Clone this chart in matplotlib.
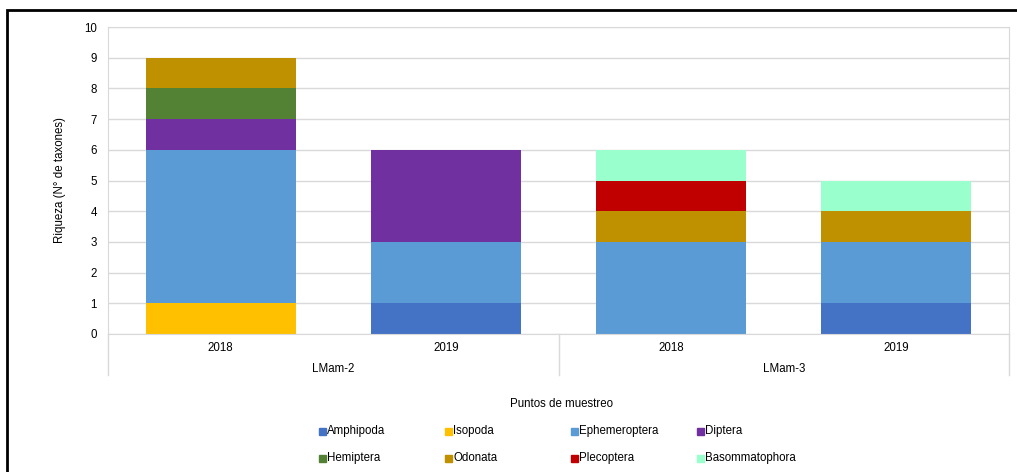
import numpy as np
import matplotlib.pyplot as plt
from matplotlib.patches import Rectangle

plt.rcParams['font.family'] = ['Liberation Sans', 'DejaVu Sans']

# Sampling points and years
sites = ['LMam-2', 'LMam-3']
years = ['2018', '2019', '2018', '2019']

taxa = ['Amphipoda', 'Isopoda', 'Ephemeroptera', 'Diptera',
        'Hemiptera', 'Odonata', 'Plecoptera', 'Basommatophora']
colors = ['#4472C4', '#FFC000', '#5B9BD5', '#7030A0',
          '#548235', '#BF9000', '#C00000', '#99FFCC']

# number of taxa per order, per bar (LMam-2 2018, LMam-2 2019, LMam-3 2018, LMam-3 2019)
amphipoda = [0, 1, 0, 1]
isopoda = [1, 0, 0, 0]
ephemeroptera = [5, 2, 3, 2]
diptera = [1, 3, 0, 0]
hemiptera = [1, 0, 0, 0]
odonata = [1, 0, 1, 1]
plecoptera = [0, 0, 1, 0]
basommatophora = [0, 0, 1, 1]

series = [amphipoda, isopoda, ephemeroptera, diptera,
          hemiptera, odonata, plecoptera, basommatophora]

W, H = 1017, 472
fs = 8.3
fig = plt.figure(figsize=(W / 100, H / 100), dpi=100)

# outer frame of the chart
fig.patches.append(Rectangle((7 / W, -0.1), 1.2, (H - 10) / H + 0.1,
                             transform=fig.transFigure, fill=False,
                             edgecolor='black', linewidth=2))

ax = fig.add_axes([108 / W, (H - 334) / H, 901 / W, 307 / H])

x = np.arange(len(years))
bottom = np.zeros(len(years))
for name, vals, c in zip(taxa, series, colors):
    ax.bar(x, vals, width=0.667, bottom=bottom, color=c, label=name, zorder=2)
    bottom += np.array(vals)

ax.set_xlim(-0.5, 3.5)
ax.set_ylim(0, 10)
ax.set_yticks(range(0, 11))
ax.yaxis.grid(True, color='#D9D9D9', linewidth=1, zorder=0)
ax.tick_params(axis='y', length=0, labelsize=fs, pad=8)
ax.set_xticks([])
for s in ax.spines.values():
    s.set_color('#D9D9D9')

ax.set_ylabel('Riqueza (N° de taxones)', fontsize=fs, labelpad=13)

# two-level category axis
trans = ax.get_xaxis_transform()
for xi, yr in zip(x, years):
    ax.text(xi, -0.045, yr, transform=trans, ha='center', va='center', fontsize=fs)
for i, site in enumerate(sites):
    ax.text(0.5 + 2 * i, -0.113, site, transform=trans, ha='center', va='center', fontsize=fs)
for xs in [-0.5, 1.5, 3.5]:
    ax.plot([xs, xs], [0, -0.134], transform=trans, color='#D9D9D9',
            linewidth=1, clip_on=False)

fig.text(562 / W, 1 - 404 / H, 'Puntos de muestreo', ha='center', va='center', fontsize=fs)

# legend, two rows of four
col_x = [322, 448, 574, 700]
row_y = [431, 458]
for i, (name, c) in enumerate(zip(taxa, colors)):
    px = col_x[i % 4]
    py = row_y[i // 4]
    fig.patches.append(Rectangle(((px - 3.5) / W, 1 - (py + 3.5) / H), 7 / W, 7 / H,
                                 transform=fig.transFigure, color=c))
    fig.text((px + 5) / W, 1 - py / H, name, ha='left', va='center', fontsize=fs)

fig.savefig('out.png', dpi=100)
